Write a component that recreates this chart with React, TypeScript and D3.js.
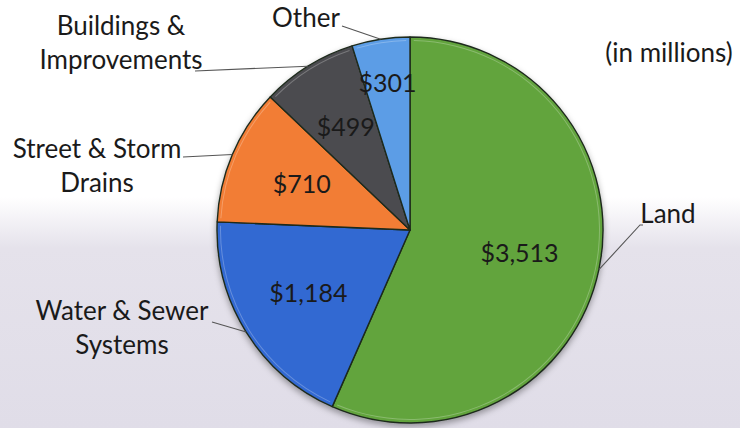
import React from "react";
import * as d3 from "d3";

const categories = ["Land", "Water & Sewer Systems", "Street & Storm Drains", "Buildings & Improvements", "Other"];
const values = [3513, 1184, 710, 499, 301];
const valueLabels = ["$3,513", "$1,184", "$710", "$499", "$301"];
const nameLines = [["Land"], ["Water & Sewer", "Systems"], ["Street & Storm", "Drains"], ["Buildings &", "Improvements"], ["Other"]];
const colors = ["#62a43c", "#3069d2", "#f27d34", "#4b4b4f", "#5b9de6"];
const unitNote = "(in millions)";

// layout: outer label anchors (x, first baseline), leader start points
const labelPos = [
  { x: 668, y: 223, sx: 640, sy: 225 },
  { x: 122, y: 320, sx: 212, sy: 322 },
  { x: 97, y: 158, sx: 183, sy: 157 },
  { x: 121, y: 35, sx: 195, sy: 71 },
  { x: 306, y: 27, sx: 342, sy: 26 },
];
const valueRadius = [0.58, 0.62, 0.61, 0.63, 0.77];

const W = 740, H = 428;
const cx = 410, cy = 230, R = 193;
const FONT = "Lato, 'Open Sans', sans-serif";
const FS = 26;
const VFS = 25;
const LH = 34;

export default function App() {
  const pie = d3.pie<number>().sort(null).value((d) => d)(values);
  const arc = d3.arc<d3.PieArcDatum<number>>().innerRadius(0).outerRadius(R);
  const bevel = d3.arc<d3.PieArcDatum<number>>().innerRadius(R - 4).outerRadius(R - 3);
  const pt = (a: number, r: number) => [Math.sin(a) * r, -Math.cos(a) * r];

  return (
    <svg width={W} height={H} style={{ position: "absolute", left: 0, top: 0 }} fontFamily={FONT}>
      <defs>
        <linearGradient id="bg" x1="0" y1="0" x2="0" y2="1">
          <stop offset="0" stopColor="#ffffff" />
          <stop offset="0.46" stopColor="#ffffff" />
          <stop offset="0.58" stopColor="#e5e2eb" />
          <stop offset="1" stopColor="#e0dde8" />
        </linearGradient>
        <filter id="shadow" x="-10%" y="-10%" width="120%" height="125%">
          <feDropShadow dx="0" dy="3" stdDeviation="3" floodColor="#000" floodOpacity="0.35" />
        </filter>
      </defs>
      <rect width={W} height={H} fill="url(#bg)" />
      <g transform={`translate(${cx},${cy})`}>
        <g filter="url(#shadow)">
          {pie.map((p, i) => (
            <path key={i} d={arc(p) || ""} fill={colors[i]} stroke="#1e2a1c" strokeWidth={1.4} strokeLinejoin="round" />
          ))}
        </g>
        {pie.map((p, i) => (
          <path key={"b" + i} d={bevel({ ...p, startAngle: p.startAngle + 0.02, endAngle: p.endAngle - 0.02 }) || ""} fill="#ffffff" opacity={0.25} />
        ))}
        {pie.map((p, i) => {
          const m = (p.startAngle + p.endAngle) / 2;
          const [x, y] = pt(m, R * valueRadius[i]);
          return (
            <text key={"v" + i} x={x} y={y} dy="0.35em" textAnchor="middle" fontSize={VFS} fill="#1a1a1a">
              {valueLabels[i]}
            </text>
          );
        })}
      </g>
      {pie.map((p, i) => {
        const m = (p.startAngle + p.endAngle) / 2;
        const [ex, ey] = pt(m, R);
        const lp = labelPos[i];
        const pts: [number, number][] = i === 0
          ? [[lp.sx + 3, lp.sy], [lp.sx, lp.sy], [cx + ex, cy + ey]]
          : [[lp.sx, lp.sy], [cx + ex, cy + ey]];
        return <path key={"l" + i} d={d3.line()(pts) || ""} fill="none" stroke="#555" strokeWidth={1.1} />;
      })}
      {nameLines.map((lines, i) => (
        <text key={"n" + i} x={labelPos[i].x} y={labelPos[i].y} textAnchor="middle" fontSize={FS} fill="#1a1a1a">
          {lines.map((t, j) => (
            <tspan key={j} x={labelPos[i].x} dy={j === 0 ? 0 : LH}>{t}</tspan>
          ))}
        </text>
      ))}
      <text x={669} y={62} textAnchor="middle" fontSize={FS} fill="#1a1a1a">{unitNote}</text>
    </svg>
  );
}
